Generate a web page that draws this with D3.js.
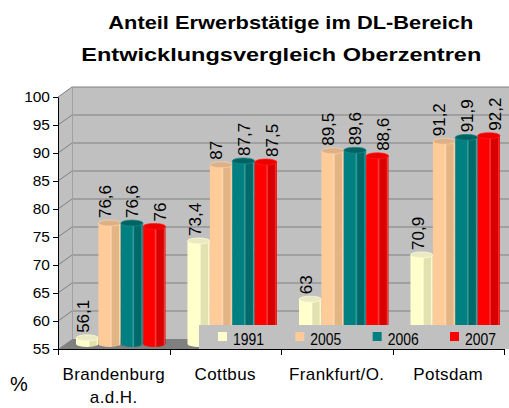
<!DOCTYPE html>
<html>
<head>
<meta charset="utf-8">
<script src="https://cdn.jsdelivr.net/npm/d3@7"></script>
<style>
  html, body { margin: 0; padding: 0; background: #ffffff; }
  svg { display: block; font-family: "Liberation Sans", Arial, sans-serif; }
</style>
</head>
<body>
<svg id="chart" width="509" height="408"></svg>
<script>
// ---- data ----
const titleLines = ["Anteil Erwerbstätige im DL-Bereich", "Entwicklungsvergleich Oberzentren"];
const categories = ["Brandenburg a.d.H.", "Cottbus", "Frankfurt/O.", "Potsdam"];
const categoryLines = [["Brandenburg", "a.d.H."], ["Cottbus"], ["Frankfurt/O."], ["Potsdam"]];
const seriesNames = ["1991", "2005", "2006", "2007"];
const values1991 = [56.1, 73.4, 63.0, 70.9];
const values2005 = [76.6, 87.0, 89.5, 91.2];
const values2006 = [76.6, 87.7, 89.6, 91.9];
const values2007 = [76.0, 87.5, 88.6, 92.2];
const yTicks = [55, 60, 65, 70, 75, 80, 85, 90, 95, 100];
const yAxisLabel = "%";

const seriesValues = [values1991, values2005, values2006, values2007];
const seriesColors = ["#ffffcc", "#ffcc99", "#008080", "#ff0000"];
const seriesDark   = ["#e2e2b0", "#e3b585", "#006a6a", "#d80000"];
const seriesTop    = ["#e9e9c4", "#dcb088", "#006262", "#ee0000"];

// ---- layout ----
const svg = d3.select("#chart");
const depthX = 14, depthY = -10;        // back wall offset
const midX = depthX / 2, midY = depthY / 2;
const plotLeft = 58, plotRight = 504, plotTop = 97, plotBottom = 349;

const y = d3.scaleLinear().domain([55, 100]).range([plotBottom, plotTop]);
const x0 = d3.scaleBand().domain(categories).range([plotLeft, plotRight]).padding(0);
const x1 = d3.scaleBand().domain(seriesNames).range([11, x0.bandwidth() - 11]).padding(0);

const fmt = d3.formatLocale({decimal: ",", thousands: ".", grouping: [3], currency: ["", "€"]}).format(".1~f");

// gradients
const defs = svg.append("defs");
seriesNames.forEach((s, i) => {
  const g = defs.append("linearGradient").attr("id", "grad" + i)
    .attr("x1", "0").attr("x2", "1").attr("y1", "0").attr("y2", "0");
  const base = d3.color(seriesColors[i]);
  const light = d3.interpolateRgb(seriesColors[i], "#ffffff")(0.25);
  [[0, base], [0.5, base], [0.56, light], [0.62, seriesDark[i]], [0.9, seriesDark[i]], [0.95, light], [1, seriesDark[i]]]
    .forEach(([o, c]) => g.append("stop").attr("offset", o).attr("stop-color", c));
});

// ---- title ----
const titleX = [290.8, 281.3], titleY = [29, 61], titleW = [365, 400];
titleLines.forEach((t, i) => {
  svg.append("text").attr("x", titleX[i]).attr("y", titleY[i])
    .attr("text-anchor", "middle").attr("font-weight", "bold").attr("font-size", 18)
    .attr("textLength", titleW[i]).attr("lengthAdjust", "spacingAndGlyphs")
    .attr("fill", "#000").text(t);
});

// ---- walls ----
const wallColor = "#c0c0c0", edgeColor = "#808080";
svg.append("path")
  .attr("d", `M${plotLeft},${y(100)} L${plotLeft + depthX},${y(100) + depthY} L${plotLeft + depthX},${y(55) + depthY} L${plotLeft},${y(55)} Z`)
  .attr("fill", wallColor).attr("stroke", "none");
svg.append("rect")
  .attr("x", plotLeft + depthX).attr("y", y(100) + depthY)
  .attr("width", 509 - plotLeft - depthX).attr("height", y(55) - y(100))
  .attr("fill", wallColor);
svg.append("path")
  .attr("d", `M${plotLeft},${y(55)} L${plotLeft + depthX},${y(55) + depthY} L${plotRight + depthX},${y(55) + depthY} L${plotRight},${y(55)} Z`)
  .attr("fill", "#808080");

// grid lines
const grid = svg.append("g").attr("stroke", edgeColor).attr("stroke-width", 1).attr("fill", "none");
yTicks.filter(v => v > 55).forEach(v => {
  grid.append("path")
    .attr("d", `M${plotLeft},${y(v)} L${plotLeft + depthX},${y(v) + depthY} L${509},${y(v) + depthY}`);
});
grid.append("line")
  .attr("x1", plotLeft + depthX + 0.5).attr("x2", plotLeft + depthX + 0.5)
  .attr("y1", y(100) + depthY).attr("y2", y(55) + depthY)
  .attr("stroke", "#a0a0a0");

// ---- bars (cylinders) ----
const ry = 3;
const barsG = svg.append("g");
categories.forEach((c, ci) => {
  seriesNames.forEach((s, si) => {
    const v = seriesValues[si][ci];
    const bx = x0(c) + x1(s) + midX;
    const bw = x1.bandwidth();
    const yTop = y(v) + midY;
    const yBot = y(55) + midY;
    const g = barsG.append("g");
    g.append("path")
      .attr("d", `M${bx},${yTop} L${bx},${yBot} A${bw / 2},${ry} 0 0 0 ${bx + bw},${yBot} L${bx + bw},${yTop} Z`)
      .attr("fill", `url(#grad${si})`);
    g.append("ellipse")
      .attr("cx", bx + bw / 2).attr("cy", yTop)
      .attr("rx", bw / 2).attr("ry", ry)
      .attr("fill", seriesTop[si])
      .attr("stroke", d3.interpolateRgb(seriesColors[si], "#ffffff")(0.1)).attr("stroke-width", 0.7);
  });
});

// ---- value labels ----
const labelShift = [-4, -5, 0, 6];
const labelsG = svg.append("g");
categories.forEach((c, ci) => {
  seriesNames.forEach((s, si) => {
    const v = seriesValues[si][ci];
    const cx = x0(c) + x1(s) + midX + x1.bandwidth() / 2 + labelShift[si];
    const ty = y(v) + midY - 5;
    labelsG.append("text")
      .attr("transform", `translate(${cx},${ty}) rotate(-90)`)
      .attr("dy", "0.36em")
      .attr("font-size", 17).attr("fill", "#000")
      .text(fmt(v));
  });
});

// ---- legend ----
const legend = svg.append("g");
legend.append("rect").attr("x", 199).attr("y", 325).attr("width", 310).attr("height", 24).attr("fill", wallColor);
const lx = d3.scalePoint().domain(seriesNames).range([218, 450]);
seriesNames.forEach((s, i) => {
  legend.append("rect").attr("x", lx(s)).attr("y", 332).attr("width", 9).attr("height", 9)
    .attr("fill", seriesColors[i]);
  legend.append("text").attr("x", lx(s) + 15).attr("y", 345)
    .attr("font-size", 16.5).attr("fill", "#000")
    .attr("textLength", 31).attr("lengthAdjust", "spacingAndGlyphs")
    .text(s);
});

// ---- axes ----
const yAxis = d3.axisLeft(y).tickValues(yTicks).tickSize(5).tickSizeOuter(0).tickPadding(3)
  .tickFormat(d3.format("d"));
const ya = svg.append("g").attr("transform", `translate(${plotLeft},0)`).call(yAxis);
ya.selectAll("text").attr("font-size", 15.5).attr("fill", "#000")
  .attr("font-family", '"Liberation Sans", Arial, sans-serif');
ya.selectAll("line").attr("stroke", "#000");
ya.select(".domain").attr("stroke", "#000");

const xa = svg.append("g");
xa.append("line").attr("x1", plotLeft).attr("x2", plotRight + 0.5)
  .attr("y1", plotBottom + 0.5).attr("y2", plotBottom + 0.5).attr("stroke", "#000");
const bounds = categories.map(c => x0(c)).concat([x0.range()[1]]);
bounds.forEach(b => {
  xa.append("line").attr("x1", Math.round(b) + 0.5).attr("x2", Math.round(b) + 0.5)
    .attr("y1", plotBottom).attr("y2", plotBottom + 6).attr("stroke", "#000");
});
categories.forEach((c, ci) => {
  const t = xa.append("text").attr("x", x0(c) + x0.bandwidth() / 2).attr("y", 380)
    .attr("text-anchor", "middle").attr("font-size", 17).attr("letter-spacing", 0.4).attr("fill", "#000");
  categoryLines[ci].forEach((line, li) => {
    t.append("tspan").attr("x", x0(c) + x0.bandwidth() / 2).attr("dy", li === 0 ? 0 : 23).text(line);
  });
});

svg.append("text").attr("x", 10).attr("y", 391).attr("font-size", 20).attr("fill", "#000").text(yAxisLabel);
</script>
</body>
</html>
